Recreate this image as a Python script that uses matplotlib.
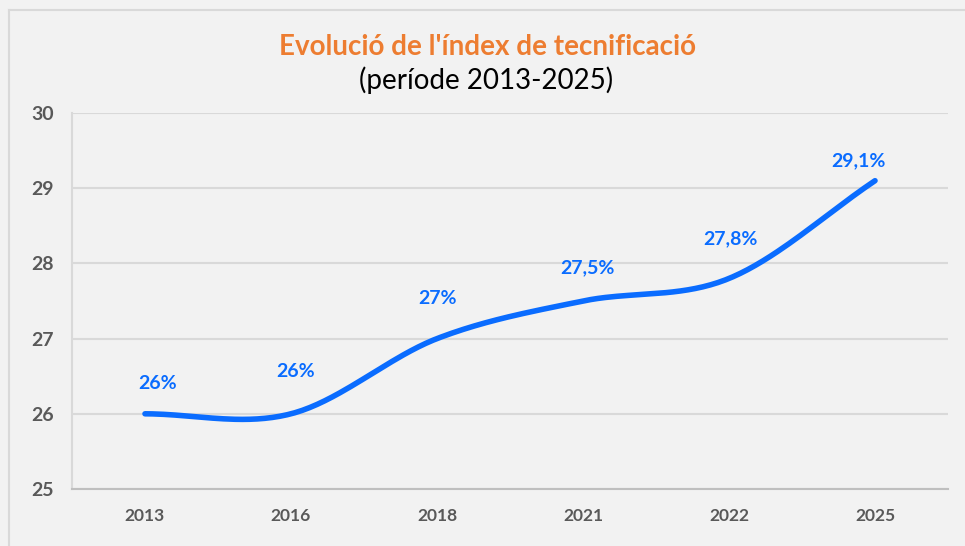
import matplotlib.pyplot as plt
import numpy as np
from matplotlib.lines import Line2D

# Chart data
years = ["2013", "2016", "2018", "2021", "2022", "2025"]
index_values = [26.0, 26.0, 27.0, 27.5, 27.8, 29.1]
value_labels = ["26%", "26%", "27%", "27,5%", "27,8%", "29,1%"]

# label offsets from each point, in pixels (dx, dy)
label_offsets = [(13, 30), (5, 42), (0, 40), (4, 33), (1, 40), (-17, 20)]

blue = "#0a6cff"
orange = "#ed7d31"
tick_grey = "#595959"


# Smoothed line like the spreadsheet one (Catmull-Rom through the points).
def smooth_curve(xs, ys, steps=40):
    xs = np.asarray(xs, dtype=float)
    ys = np.asarray(ys, dtype=float)
    n = len(xs)
    out_x = []
    out_y = []
    for i in range(n - 1):
        p0 = max(i - 1, 0)
        p3 = min(i + 2, n - 1)
        mx0 = (xs[i + 1] - xs[p0]) / (i + 1 - p0)
        my0 = (ys[i + 1] - ys[p0]) / (i + 1 - p0)
        mx1 = (xs[p3] - xs[i]) / (p3 - i)
        my1 = (ys[p3] - ys[i]) / (p3 - i)
        t = np.linspace(0, 1, steps)
        h00 = 2 * t**3 - 3 * t**2 + 1
        h10 = t**3 - 2 * t**2 + t
        h01 = -2 * t**3 + 3 * t**2
        h11 = t**3 - t**2
        out_x.extend(h00 * xs[i] + h10 * mx0 + h01 * xs[i + 1] + h11 * mx1)
        out_y.extend(h00 * ys[i] + h10 * my0 + h01 * ys[i + 1] + h11 * my1)
    return np.array(out_x), np.array(out_y)


plt.rcParams['font.family'] = ['Lato', 'DejaVu Sans']

fig = plt.figure(figsize=(9.65, 5.46), dpi=100, facecolor="#f2f2f2")
ax = fig.add_axes([0.0746, 0.1044, 0.9078, 0.6886])
ax.set_facecolor("#f2f2f2")

x = np.arange(len(years))
sx, sy = smooth_curve(x, index_values)
ax.plot(sx, sy, color=blue, linewidth=4, solid_capstyle="round", zorder=3)

for i in range(len(years)):
    ax.annotate(value_labels[i], (x[i], index_values[i]),
                xytext=label_offsets[i], textcoords="offset pixels",
                ha="center", va="center", color=blue,
                fontsize=14, fontweight="bold")

ax.set_xlim(-0.5, len(years) - 0.5)
ax.set_ylim(25, 30)
ax.set_yticks([25, 26, 27, 28, 29, 30])
ax.set_xticks(x)
ax.set_xticklabels(years)
ax.grid(axis="y", color="#d9d9d9", linewidth=1.5, zorder=0)
ax.set_axisbelow(True)

for side in ["top", "right"]:
    ax.spines[side].set_visible(False)
ax.spines["left"].set_color("#d9d9d9")
ax.spines["left"].set_linewidth(1.5)
ax.spines["bottom"].set_color("#bfbfbf")
ax.spines["bottom"].set_linewidth(1.5)

ax.tick_params(axis="both", length=0, colors=tick_grey)
ax.tick_params(axis="y", pad=13, labelsize=14)
ax.tick_params(axis="x", pad=14, labelsize=12.5)
for lbl in ax.get_xticklabels() + ax.get_yticklabels():
    lbl.set_fontweight("bold")

fig.text(0.505, 0.914, "Evolució de l'índex de tecnificació", ha="center", va="center",
         color=orange, fontsize=20, fontweight="bold")
fig.text(0.504, 0.853, "(període 2013-2025)", ha="center", va="center",
         color="black", fontsize=20)

# outer frame of the chart (top and left edges are visible)
fig.add_artist(Line2D([0.0098, 0.0098], [0, 0.9826], color="#d9d9d9", linewidth=1.5))
fig.add_artist(Line2D([0.0098, 1], [0.9826, 0.9826], color="#d9d9d9", linewidth=1.5))

fig.savefig("out.png", dpi=100, facecolor=fig.get_facecolor())
